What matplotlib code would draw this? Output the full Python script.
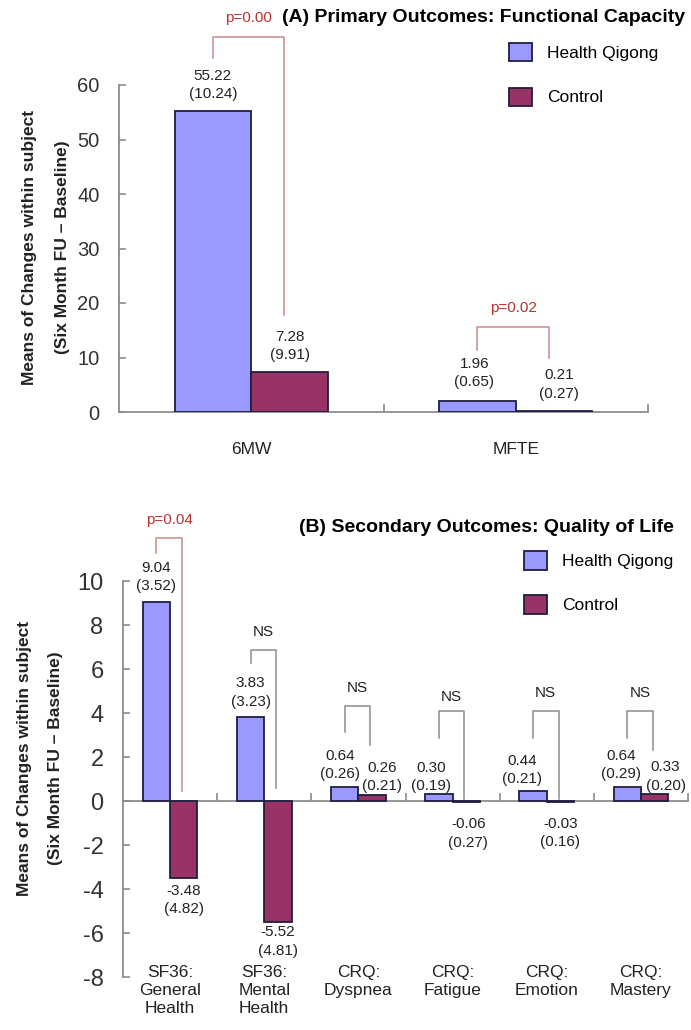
import matplotlib.pyplot as plt
import numpy as np

plt.rcParams['font.family'] = ['Liberation Sans', 'DejaVu Sans']
plt.rcParams['axes.unicode_minus'] = False

# (A) primary outcomes
cats_a = ['6MW', 'MFTE']
qigong_a = [55.22, 1.96]
qigong_sd_a = [10.24, 0.65]
control_a = [7.28, 0.21]
control_sd_a = [9.91, 0.27]
p_a = ['p=0.00', 'p=0.02']

# (B) secondary outcomes
cats_b = ['SF36:\nGeneral\nHealth', 'SF36:\nMental\nHealth', 'CRQ:\nDyspnea',
          'CRQ:\nFatigue', 'CRQ:\nEmotion', 'CRQ:\nMastery']
qigong_b = [9.04, 3.83, 0.64, 0.30, 0.44, 0.64]
qigong_sd_b = [3.52, 3.23, 0.26, 0.19, 0.21, 0.29]
control_b = [-3.48, -5.52, 0.26, -0.06, -0.03, 0.33]
control_sd_b = [4.82, 4.81, 0.21, 0.27, 0.16, 0.20]
p_b = ['p=0.04', 'NS', 'NS', 'NS', 'NS', 'NS']

# bracket levels (data units): top, left leg end, right leg end, label
br_a = dict(top=[68.8, 15.6], left=[65.0, 11.4], right=[17.8, 9.9], lab=[72.3, 19.1])
br_b = dict(top=[11.95, 6.86, 4.32, 4.09, 4.09, 4.09],
            left=[11.27, 6.27, 3.14, 2.86, 2.86, 2.86],
            right=[0.45, 0.6, 2.55, 0.1, 0.1, 2.32],
            lab=[12.77, 7.68, 5.14, 4.73, 4.9, 4.9])

# label nudges in pixels
dx_a_q, dx_a_c = [0, -3], [0, 5]
dy_a_q, dy_a_c = [10, 12], [10, 10]
dx_b_q = [0, 0, -5, -8, -11, -6]
dx_b_c = [0, 0, 10, 2, 0, 11]
dy_b_q = [9, 8, 6, 1, 5, 6]
dy_b_c = [-6, -3, 2, -15, -15, 1]

QG = '#9999FF'
CT = '#993366'
EDGE = '#1f1f40'
RED = '#b83232'
REDLINE = '#c98a8a'
GRAY = '#8c8c8c'
W, H = 691, 1030
BW = 0.29

fig = plt.figure(figsize=(6.91, 10.30), dpi=100)


def px(x0, y0, x1, y1):
    return [x0 / W, 1 - y1 / H, (x1 - x0) / W, (y1 - y0) / H]


def panel(ax, cats, q, qsd, c, csd, pl, br, dxq, dxc, dyq, dyc, tick_fs):
    x = np.arange(len(cats)) + 0.5
    b1 = ax.bar(x - BW / 2, q, BW, color=QG, edgecolor=EDGE, linewidth=1.3, zorder=3)
    b2 = ax.bar(x + BW / 2, c, BW, color=CT, edgecolor=EDGE, linewidth=1.3, zorder=3)
    for xs, vals, sds, dxs, dys in [(x - BW / 2, q, qsd, dxq, dyq), (x + BW / 2, c, csd, dxc, dyc)]:
        for xi, v, s, dx, dy in zip(xs, vals, sds, dxs, dys):
            ax.annotate(f'{v:.2f}\n({s:.2f})', (xi, v), xytext=(dx, dy),
                        textcoords='offset pixels', ha='center',
                        va='bottom' if v >= 0 else 'top', fontsize=11,
                        linespacing=1.4, color='#222222', zorder=5)
    for i, t in enumerate(pl):
        xl = x[i] - BW / 2
        xr = x[i] + BW / 2 - 0.02
        lc = REDLINE if t.startswith('p') else GRAY
        tc = RED if t.startswith('p') else '#222222'
        ax.plot([xl, xl, xr, xr], [br['left'][i], br['top'][i], br['top'][i], br['right'][i]],
                color=lc, lw=1.1, clip_on=False, zorder=4)
        ax.text((xl + xr) / 2, br['lab'][i], t, ha='center', va='center',
                fontsize=11, color=tc)
    ax.set_xlim(0, len(cats))
    ax.set_xticks(np.arange(1, len(cats) + 1))
    ax.set_xticklabels([])
    ax.tick_params(axis='x', direction='in', length=6, color=GRAY, width=1.2)
    ax.tick_params(axis='y', direction='in', length=5, color=GRAY, width=1.2,
                   labelsize=tick_fs, labelcolor='#333333', pad=14)
    for s in ['top', 'right']:
        ax.spines[s].set_visible(False)
    for s in ['left', 'bottom']:
        ax.spines[s].set_color(GRAY)
        ax.spines[s].set_linewidth(1.3)
    return x, b1, b2


# panel A
ax1 = fig.add_axes(px(119, 85, 648, 412))
x, b1, b2 = panel(ax1, cats_a, qigong_a, qigong_sd_a, control_a, control_sd_a, p_a,
                  br_a, dx_a_q, dx_a_c, dy_a_q, dy_a_c, 14.5)
ax1.set_ylim(0, 60)
ax1.set_yticks(range(0, 61, 10))
for xi, t in zip(x, cats_a):
    ax1.text(xi, -0.116, t, transform=ax1.get_xaxis_transform(), ha='center',
             va='center', fontsize=12.5, color='#222222')
ax1.legend([b1, b2], ['Health Qigong', 'Control'], loc='upper left',
           bbox_to_anchor=(509 / W, 1 - 43 / H), bbox_transform=fig.transFigure,
           frameon=False, fontsize=12.5, handlelength=1.3, handleheight=1.2,
           labelspacing=1.55, handletextpad=0.9, borderpad=0, borderaxespad=0)

# panel B
ax2 = fig.add_axes(px(123, 581, 688, 977))
x, b1, b2 = panel(ax2, cats_b, qigong_b, qigong_sd_b, control_b, control_sd_b, p_b,
                  br_b, dx_b_q, dx_b_c, dy_b_q, dy_b_c, 17)
ax2.set_ylim(-8, 10)
ax2.set_yticks(range(-8, 11, 2))
ax2.spines['bottom'].set_position(('data', 0))
for xi, t in zip(x, cats_b):
    ax2.text(xi, 0.03, t, transform=ax2.get_xaxis_transform(), ha='center',
             va='top', fontsize=12.5, linespacing=1.25, color='#222222')
ax2.legend([b1, b2], ['Health Qigong', 'Control'], loc='upper left',
           bbox_to_anchor=(524 / W, 1 - 551 / H), bbox_transform=fig.transFigure,
           frameon=False, fontsize=12.5, handlelength=1.3, handleheight=1.3,
           labelspacing=1.45, handletextpad=0.9, borderpad=0, borderaxespad=0)

# titles and y labels
fig.text(685 / W, 1 - 18 / H, '(A) Primary Outcomes: Functional Capacity',
         ha='right', va='center', fontsize=14, fontweight='bold')
fig.text(674 / W, 1 - 527 / H, '(B) Secondary Outcomes: Quality of Life',
         ha='right', va='center', fontsize=14, fontweight='bold')
for yc, x1, x2 in [(247, 30, 62), (758, 25, 56)]:
    fig.text(x1 / W, 1 - yc / H, 'Means of Changes within subject', rotation=90,
             ha='center', va='center', fontsize=12.5, fontweight='bold', color='#222222')
    fig.text(x2 / W, 1 - yc / H, '(Six Month FU \u2013 Baseline)', rotation=90,
             ha='center', va='center', fontsize=12.5, fontweight='bold', color='#222222')

fig.savefig('out.png', dpi=100, facecolor='white')
